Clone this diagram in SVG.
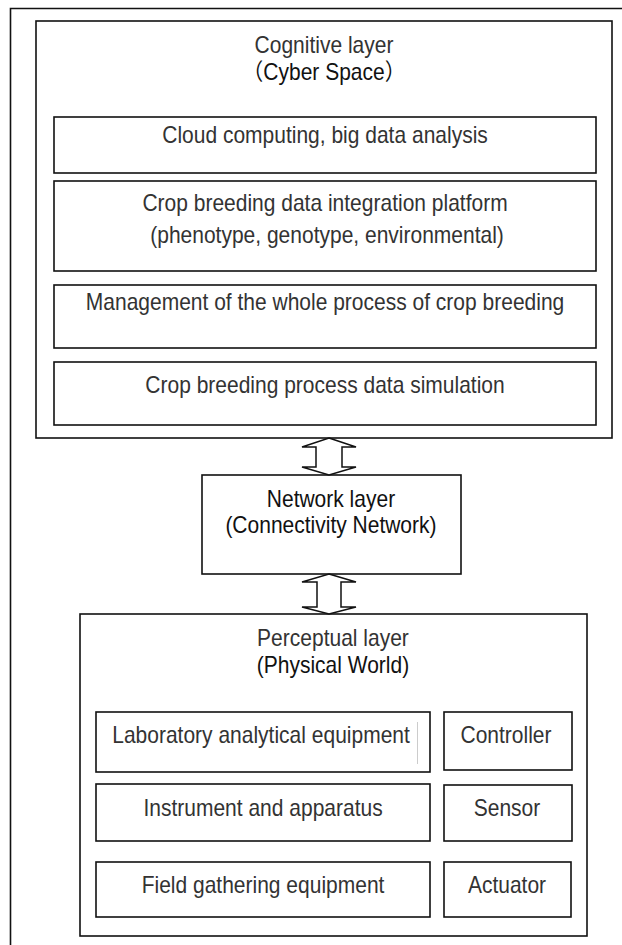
<svg xmlns="http://www.w3.org/2000/svg" width="622" height="945" viewBox="0 0 622 945">
<style>
.box{fill:#fff;stroke:#111;stroke-width:1.6}
.t{font-family:"Liberation Sans","Noto Sans CJK SC",Arial,sans-serif;font-size:23px;fill:#333;text-anchor:middle}
.k{fill:#111}
.arr{fill:#fff;stroke:#111;stroke-width:1.5;stroke-linejoin:miter}
</style>
<rect width="622" height="945" fill="#fff"/>
<g id="frame">
<path d="M10.5 945 V8.5 H622" fill="none" stroke="#111" stroke-width="1.6"/>
</g>
<g id="cognitive">
<rect class="box" x="36" y="21" width="576" height="417"/>
<text class="t" transform="scale(0.913 1)" x="354.9" y="53">Cognitive layer</text>
<text class="t k" transform="scale(0.913 1)" x="354.9" y="80">（Cyber Space）</text>
</g>
<g id="cloud">
<rect class="box" x="54" y="117" width="542" height="56"/>
<text class="t" transform="scale(0.913 1)" x="356" y="143">Cloud computing, big data analysis</text>
</g>
<g id="platform">
<rect class="box" x="54" y="181" width="542" height="90"/>
<text class="t" transform="scale(0.913 1)" x="356" y="211">Crop breeding data integration platform</text>
<text class="t" transform="scale(0.913 1)" x="358.2" y="243">(phenotype, genotype, environmental)</text>
</g>
<g id="management">
<rect class="box" x="54" y="285" width="542" height="63"/>
<text class="t" transform="scale(0.913 1)" x="356" y="310">Management of the whole process of crop breeding</text>
</g>
<g id="simulation">
<rect class="box" x="54" y="362" width="542" height="63"/>
<text class="t" transform="scale(0.913 1)" x="356" y="393">Crop breeding process data simulation</text>
</g>
<g id="network">
<rect class="box" x="202" y="475" width="259" height="99"/>
<text class="t k" transform="scale(0.913 1)" x="362.5" y="507">Network layer</text>
<text class="t k" transform="scale(0.913 1)" x="362.5" y="533">(Connectivity Network)</text>
</g>
<g id="perceptual">
<rect class="box" x="80" y="614" width="507" height="322"/>
<text class="t" transform="scale(0.913 1)" x="364.7" y="646">Perceptual layer</text>
<text class="t k" transform="scale(0.913 1)" x="364.7" y="673">(Physical World)</text>
</g>
<g id="lab">
<rect class="box" x="96" y="712" width="334" height="60"/>
<line x1="417.5" y1="722" x2="417.5" y2="764" stroke="#ccc" stroke-width="1"/>
<text class="t" transform="scale(0.913 1)" x="285.9" y="743">Laboratory analytical equipment</text>
</g>
<g id="instrument">
<rect class="box" x="96" y="784" width="334" height="57"/>
<text class="t" transform="scale(0.913 1)" x="288.1" y="816">Instrument and apparatus</text>
</g>
<g id="field">
<rect class="box" x="96" y="862" width="334" height="55"/>
<text class="t" transform="scale(0.913 1)" x="288.1" y="893">Field gathering equipment</text>
</g>
<g id="controller">
<rect class="box" x="444" y="712" width="128" height="58"/>
<text class="t" transform="scale(0.913 1)" x="554.2" y="743">Controller</text>
</g>
<g id="sensor">
<rect class="box" x="444" y="785" width="128" height="56"/>
<text class="t" transform="scale(0.913 1)" x="555.3" y="816">Sensor</text>
</g>
<g id="actuator">
<rect class="box" x="444" y="862" width="127" height="55"/>
<text class="t" transform="scale(0.913 1)" x="555.3" y="893">Actuator</text>
</g>
<g id="connectors">
<path class="arr" d="M329 438 L356 447 L342 447 L342 467 L356 467 L329 475 L302 467 L316 467 L316 447 L302 447 Z"/>
<path class="arr" d="M329 574 L356 582 L341 582 L341 607 L356 607 L329 614 L302 607 L317 607 L317 582 L302 582 Z"/>
</g>
</svg>
